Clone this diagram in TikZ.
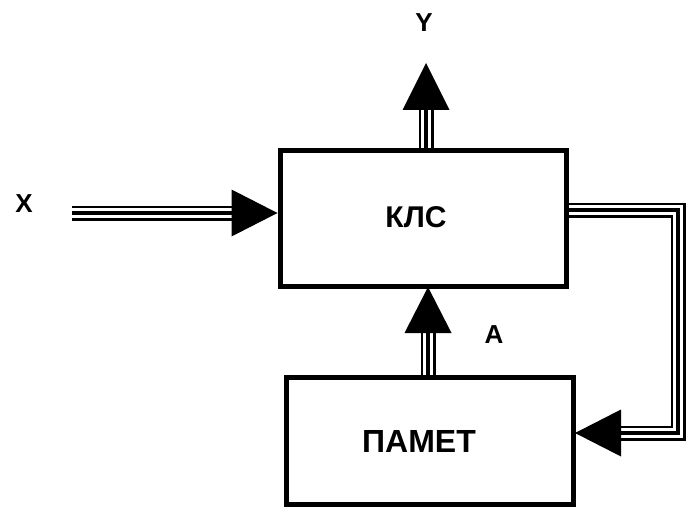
\documentclass[tikz,border=0pt]{standalone}
\usepackage{fontspec}
\setmainfont{Liberation Sans}
\tikzset{
  block/.style={draw=black, line width=5pt, rectangle, inner sep=0pt, fill=white},
  lbl/.style={font=\bfseries\fontsize{26}{26}\selectfont, inner sep=0pt},
  % three-rail bus: thin, thick, thin
  bus/.style={line width=15pt, line join=miter, line cap=butt,
    postaction={draw, white, line width=10.5pt, line join=miter},
    postaction={draw, black, line width=4.5pt, line join=miter}},
  head/.style={fill=black}
}
\begin{document}
\begin{tikzpicture}[x=1pt,y=-1pt]
\useasboundingbox[fill=white] (0,0) rectangle (687,508);

% blocks
\node[block, minimum width=286pt, minimum height=136pt] (kls) at (423,218) {};
\node[block, minimum width=287pt, minimum height=127pt] (pam) at (429.5,440.5) {};
\node[lbl, font=\bfseries\fontsize{30}{30}\selectfont] (klst) at (416,217) {КЛС};
\node[lbl, font=\bfseries\fontsize{32}{32}\selectfont] (pamt) at (419,441) {ПАМЕТ};

% labels
\node[lbl] (ylab) at (424,23) {Y};
\node[lbl] (xlab) at (24,204) {X};
\node[lbl] (alab) at (494,335) {A};

% input X
\coordinate (xin) at (72,213);
\coordinate (xbase) at (233,213);
\draw[bus] (xin) -- (xbase);
\fill[head] ([yshift=5pt]kls.west) -- ++(-46,-23.5) -- ++(0,47) -- cycle;

% output Y
\coordinate (ytip) at (426,63);
\draw[bus] ([xshift=3pt]kls.north) -- (ytip |- 0,110);
\fill[head] (ytip) -- ++(-23.5,47) -- ++(47,0) -- cycle;

% memory to logic (A)
\coordinate (atip) at ([xshift=5pt]kls.south);
\draw[bus] ([xshift=-1.5pt]pam.north) -- (428,333);
\fill[head] (428,287) -- ++(-23.5,46) -- ++(47,0) -- cycle;

% feedback from logic to memory
\coordinate (fbtip) at (575,433);
\draw[bus] ([yshift=8pt]kls.east) -- (678,210) -- (678,433) -- (621,433);
\fill[head] (fbtip) -- ++(46,-23.5) -- ++(0,47) -- cycle;
\end{tikzpicture}
\end{document}
